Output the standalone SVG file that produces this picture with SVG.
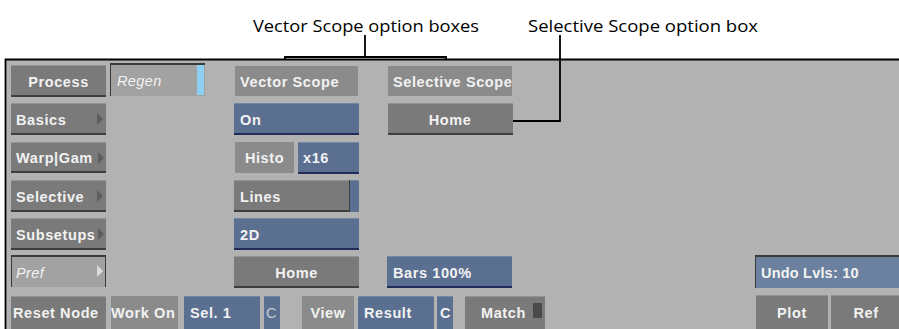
<svg xmlns="http://www.w3.org/2000/svg" width="899" height="329" viewBox="0 0 899 329">
<defs>
<style>
.panel{fill:#b2b2b2;stroke:none}
.border{stroke:#000;stroke-width:1.8;fill:none}
.gb{fill:#7a7a7a}
.gbh{fill:#939393}
.gbs{fill:#3e3e3e}
.fl{fill:#8b8b8b}
.bb{fill:#5b7090}
.bbh{fill:#7388a6}
.bbs{fill:#232c58}
.lt{fill:#a2a2a2}
.ltb{fill:#3a3a3a}
.ub{fill:#6b819f}
.tri{fill:#5e5e5e}
.t{font-family:"Liberation Sans",Arial,sans-serif;font-weight:bold;font-size:14.5px;fill:#f2f2f2;letter-spacing:0.6px}
.ti{font-family:"Liberation Sans",Arial,sans-serif;font-style:italic;font-size:14.5px;fill:#f2f2f2;letter-spacing:0.4px}
.tc{fill:#c9ccd4}
.m{text-anchor:middle}
.ann{font-family:"Open Sans","Noto Sans",sans-serif;font-size:16px;fill:#000}
.lead{stroke:#000;stroke-width:1.8;fill:none}
</style>
</defs>
<rect x="0" y="0" width="899" height="329" fill="#fff"/>
<rect class="panel" x="5" y="59" width="894" height="270"/>
<path class="border" d="M5.5 329 V59.5 H899"/>

<g id="annotations">
<text class="ann" x="253" y="32" textLength="226" lengthAdjust="spacingAndGlyphs">Vector Scope option boxes</text>
<text class="ann" x="528" y="32" textLength="230" lengthAdjust="spacingAndGlyphs">Selective Scope option box</text>
</g>
<g id="connectors">
<path class="lead" d="M365 35 V57 M285 59 V57 H446 V59"/>
<path class="lead" d="M560 35 V121 H482"/>
</g>

<!-- left column -->
<g id="process">
<rect class="gb" x="11" y="65" width="95" height="32"/>
<rect class="gbh" x="11" y="65" width="95" height="1"/>
<rect class="gbs" x="11" y="95" width="95" height="2"/>
<text class="t m" x="58.5" y="87">Process</text>
</g>
<g id="regen">
<rect class="lt" x="110" y="63" width="95" height="33"/>
<rect class="ltb" x="110" y="63" width="95" height="2"/>
<rect class="ltb" x="110" y="63" width="1" height="33"/>
<rect x="197" y="65" width="7" height="30" fill="#8fd0f2"/>
<text class="ti" x="117" y="86">Regen</text>
</g>
<g id="basics">
<rect class="gb" x="11" y="103" width="95" height="32"/>
<rect class="gbh" x="11" y="103" width="95" height="1"/>
<rect class="gbs" x="11" y="133" width="95" height="2"/>
<polygon class="tri" points="97,113 103,119 97,125"/>
<text class="t" x="16" y="125">Basics</text>
</g>
<g id="warpgam">
<rect class="gb" x="11" y="142" width="95" height="31"/>
<rect class="gbh" x="11" y="142" width="95" height="1"/>
<rect class="gbs" x="11" y="171" width="95" height="2"/>
<polygon class="tri" points="98,152 104,158 98,164"/>
<text class="t" x="16" y="163">Warp|Gam</text>
</g>
<g id="selective">
<rect class="gb" x="11" y="180" width="95" height="32"/>
<rect class="gbh" x="11" y="180" width="95" height="1"/>
<rect class="gbs" x="11" y="210" width="95" height="2"/>
<polygon class="tri" points="97,190 103,196 97,202"/>
<text class="t" x="16" y="202">Selective</text>
</g>
<g id="subsetups">
<rect class="gb" x="11" y="218" width="95" height="32"/>
<rect class="gbh" x="11" y="218" width="95" height="1"/>
<rect class="gbs" x="11" y="248" width="95" height="2"/>
<polygon class="tri" points="98,228 104,234 98,240"/>
<text class="t" x="16" y="240">Subsetups</text>
</g>
<g id="pref">
<rect class="lt" x="11" y="255" width="95" height="32"/>
<rect class="ltb" x="11" y="255" width="95" height="2"/>
<rect class="ltb" x="11" y="255" width="1" height="32"/>
<rect class="ltb" x="105" y="255" width="1" height="32"/>
<polygon points="97,265 103,271 97,277" fill="#dcdcdc"/>
<text class="ti" x="16" y="278">Pref</text>
</g>
<g id="resetnode">
<rect class="gb" x="11" y="296" width="95" height="33"/>
<rect class="gbh" x="11" y="296" width="95" height="1"/>
<text class="t" x="13" y="318" letter-spacing="0.5">Reset Node</text>
</g>
<g id="workon">
<rect class="fl" x="111" y="296" width="67" height="33"/>
<text class="t" x="111" y="318" letter-spacing="0.2">Work On</text>
</g>
<g id="sel1">
<rect class="bb" x="184" y="296" width="76" height="33"/>
<rect class="bbh" x="184" y="296" width="76" height="1"/>
<text class="t" x="190" y="318">Sel. 1</text>
</g>
<g id="c1">
<rect class="bb" x="264" y="296" width="16" height="33"/>
<rect class="bbh" x="264" y="296" width="16" height="1"/>
<text class="t tc" x="266" y="318" style="font-weight:normal">C</text>
</g>

<!-- vector scope column -->
<g id="vectorscope">
<rect class="fl" x="235" y="66" width="123" height="30"/>
<text class="t" x="240" y="87">Vector Scope</text>
</g>
<g id="on">
<rect class="bb" x="234" y="103" width="125" height="32"/>
<rect class="bbh" x="234" y="103" width="125" height="1"/>
<rect class="bbs" x="234" y="133" width="125" height="2"/>
<text class="t" x="240" y="125">On</text>
</g>
<g id="histo">
<rect class="fl" x="235" y="142" width="59" height="31"/>
<text class="t m" x="264.5" y="163">Histo</text>
</g>
<g id="x16">
<rect class="bb" x="298" y="142" width="61" height="32"/>
<rect class="bbh" x="298" y="142" width="61" height="1"/>
<rect class="bbs" x="298" y="172" width="61" height="2"/>
<text class="t" x="303" y="163">x16</text>
</g>
<g id="lines">
<rect class="bb" x="234" y="180" width="125" height="32"/>
<rect class="bbh" x="234" y="180" width="125" height="1"/>
<rect class="gb" x="234" y="180" width="115" height="31"/>
<rect class="gbh" x="234" y="180" width="115" height="1"/>
<rect class="gbs" x="234" y="210" width="115" height="2"/>
<rect x="349" y="180" width="1" height="32" fill="#3e3e3e"/>
<text class="t" x="240" y="202">Lines</text>
</g>
<g id="twod">
<rect class="bb" x="234" y="218" width="125" height="32"/>
<rect class="bbh" x="234" y="218" width="125" height="1"/>
<rect class="bbs" x="234" y="248" width="125" height="2"/>
<text class="t" x="240" y="240">2D</text>
</g>
<g id="vhome">
<rect class="gb" x="234" y="256" width="125" height="32"/>
<rect class="gbh" x="234" y="256" width="125" height="1"/>
<rect class="gbs" x="234" y="286" width="125" height="2"/>
<text class="t m" x="296.5" y="278">Home</text>
</g>
<g id="view">
<rect class="fl" x="302" y="296" width="52" height="33"/>
<text class="t m" x="328" y="318">View</text>
</g>
<g id="result">
<rect class="bb" x="358" y="296" width="76" height="33"/>
<rect class="bbh" x="358" y="296" width="76" height="1"/>
<text class="t" x="364" y="318">Result</text>
</g>
<g id="c2">
<rect class="bb" x="437" y="296" width="16" height="33"/>
<rect class="bbh" x="437" y="296" width="16" height="1"/>
<text class="t" x="440" y="318" letter-spacing="0">C</text>
</g>
<g id="match">
<rect class="gb" x="465" y="296" width="80" height="33"/>
<rect class="gbh" x="465" y="296" width="80" height="1"/>
<rect x="533" y="303" width="9" height="15" fill="#4a4a4a"/>
<text class="t" x="481" y="318">Match</text>
</g>

<!-- selective scope column -->
<g id="selectivescope">
<rect class="fl" x="388" y="66" width="124" height="30"/>
<text class="t" x="393" y="87">Selective Scope</text>
</g>
<g id="shome">
<rect class="gb" x="388" y="103" width="125" height="32"/>
<rect class="gbh" x="388" y="103" width="125" height="1"/>
<rect class="gbs" x="388" y="133" width="125" height="2"/>
<text class="t m" x="450" y="125">Home</text>
</g>
<g id="bars">
<rect class="bb" x="387" y="256" width="125" height="32"/>
<rect class="bbh" x="387" y="256" width="125" height="1"/>
<rect class="bbs" x="387" y="286" width="125" height="2"/>
<text class="t" x="393" y="278">Bars 100%</text>
</g>

<!-- right side -->
<g id="undo">
<rect class="ub" x="755" y="255" width="144" height="33"/>
<rect class="ltb" x="755" y="255" width="144" height="2"/>
<rect class="ltb" x="755" y="255" width="1" height="33"/>
<text class="t" x="761" y="278" style="letter-spacing:0.2px">Undo Lvls: 10</text>
</g>
<g id="plot">
<rect class="gb" x="756" y="295" width="72" height="34"/>
<rect class="gbh" x="756" y="295" width="72" height="1"/>
<text class="t m" x="792" y="318">Plot</text>
</g>
<g id="ref">
<rect class="gb" x="831" y="295" width="68" height="34"/>
<rect class="gbh" x="831" y="295" width="68" height="1"/>
<text class="t m" x="866" y="318">Ref</text>
</g>
</svg>
